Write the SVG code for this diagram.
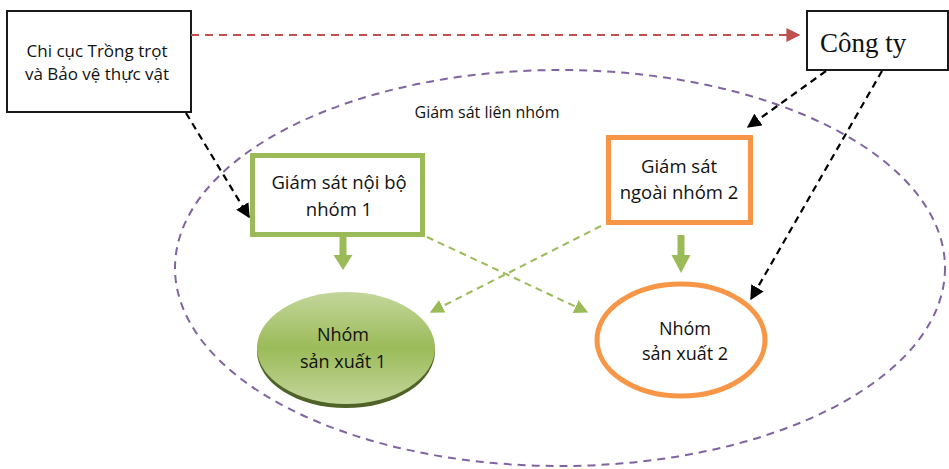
<svg xmlns="http://www.w3.org/2000/svg" width="949" height="469" viewBox="0 0 949 469">
<defs>
<style>
.t{font-family:"Open Sans","Noto Sans","DejaVu Sans",sans-serif;font-size:17px;fill:#111;text-anchor:middle}
.b{font-size:18.5px}
.e{font-size:18px}
.l{font-size:16px}
.box{fill:#fff;stroke:#1a1a1a;stroke-width:2}
.blk{stroke:#000;stroke-width:2.2;stroke-dasharray:7 5;fill:none}
.grn{stroke:#9bbb59;stroke-width:2;stroke-dasharray:7 5;fill:none}
</style>
<marker id="ab" viewBox="0 0 10 10" refX="9" refY="5" markerWidth="6.5" markerHeight="6.5" orient="auto" markerUnits="strokeWidth"><path d="M0,0 L10,5 L0,10 z" fill="#000"/></marker>
<marker id="ag" viewBox="0 0 10 10" refX="9" refY="5" markerWidth="7" markerHeight="7" orient="auto" markerUnits="strokeWidth"><path d="M0,0 L10,5 L0,10 z" fill="#9bbb59"/></marker>
<marker id="ar" viewBox="0 0 10 10" refX="9" refY="5" markerWidth="7" markerHeight="7" orient="auto" markerUnits="strokeWidth"><path d="M0,0 L10,5 L0,10 z" fill="#c0504d"/></marker>
<linearGradient id="gg" x1="0" y1="0" x2="0" y2="1">
<stop offset="0" stop-color="#c3d69b"/>
<stop offset="0.5" stop-color="#9bbb59"/>
<stop offset="1" stop-color="#c3d69b"/>
</linearGradient>
</defs>
<rect width="949" height="469" fill="#fff"/>
<g id="lien-nhom">
<ellipse cx="560" cy="268" rx="385" ry="198" fill="none" stroke="#8064a2" stroke-width="2" stroke-dasharray="8 6"/>
<text class="t l" x="487" y="118">Giám sát liên nhóm</text>
</g>
<g id="chi-cuc">
<rect class="box" x="7" y="11" width="184" height="101"/>
<text class="t" x="97" y="57">Chi cục Trồng trọt</text>
<text class="t" x="97" y="80">và Bảo vệ thực vật</text>
</g>
<g id="cong-ty">
<rect class="box" x="807" y="11" width="141" height="59"/>
<text x="820" y="52" style="font-family:'Liberation Serif','Times New Roman',serif;font-size:27px;fill:#111">Công ty</text>
</g>
<g id="noi-bo">
<rect x="252.5" y="155.5" width="170" height="79" fill="#fff" stroke="#9bbb59" stroke-width="5"/>
<text class="t b" x="339" y="189">Giám sát nội bộ</text>
<text class="t b" x="339" y="216">nhóm 1</text>
</g>
<g id="ngoai-nhom">
<rect x="608.5" y="137.5" width="142" height="85" fill="#fff" stroke="#f79646" stroke-width="5"/>
<text class="t b" x="679" y="173">Giám sát</text>
<text class="t b" x="679" y="199">ngoài nhóm 2</text>
</g>
<g id="nhom1">
<ellipse cx="346" cy="351" rx="89" ry="57" fill="#4f6228"/>
<ellipse cx="346" cy="348" rx="89" ry="56" fill="url(#gg)"/>
<text class="t e" x="343" y="341">Nhóm</text>
<text class="t e" x="343" y="368">sản xuất 1</text>
</g>
<g id="nhom2">
<ellipse cx="681" cy="340" rx="84" ry="56" fill="#fff" stroke="#f79646" stroke-width="5"/>
<text class="t e" x="685" y="335">Nhóm</text>
<text class="t e" x="685" y="360">sản xuất 2</text>
</g>
<g id="connectors">
<line x1="191" y1="35" x2="799" y2="35" stroke="#c0504d" stroke-width="2" stroke-dasharray="8 6" marker-end="url(#ar)"/>
<line class="blk" x1="186" y1="113" x2="249" y2="217" marker-end="url(#ab)"/>
<line class="blk" x1="826" y1="71" x2="748" y2="127" marker-end="url(#ab)"/>
<line class="blk" x1="882" y1="71" x2="751" y2="299" marker-end="url(#ab)"/>
<line class="grn" x1="427" y1="237" x2="587" y2="312" marker-end="url(#ag)"/>
<line class="grn" x1="601" y1="226" x2="431" y2="312" marker-end="url(#ag)"/>
<path d="M339.5,237 h7 v18 h6 l-9.5,15 l-9.5,-15 h6 z" fill="#9bbb59"/>
<path d="M677.5,235 h7 v20 h6 l-9.5,18 l-9.5,-18 h6 z" fill="#9bbb59"/>
</g>
</svg>
